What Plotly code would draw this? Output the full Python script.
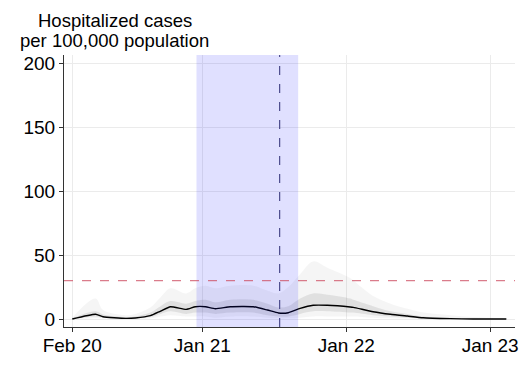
import plotly.graph_objects as go

# Median trajectory
dates = ["2020-02-06", "2020-04-05", "2020-04-24", "2020-06-20", "2020-07-15",
         "2020-08-22", "2020-09-17", "2020-10-12", "2020-11-21", "2020-12-14",
         "2021-01-09", "2021-02-03", "2021-03-13", "2021-05-10", "2021-06-15",
         "2021-07-13", "2021-08-07", "2021-09-06", "2021-10-09", "2021-11-14",
         "2022-01-11", "2022-01-19", "2022-03-10", "2022-04-23", "2022-06-05",
         "2022-07-15", "2022-09-22", "2022-11-19", "2023-02-11"]
median = [0.0, 3.7, 1.8, 0.5, 0.8, 2.6, 6.2, 9.6, 7.5, 9.6,
          9.6, 8.0, 9.6, 9.6, 7.0, 4.7, 4.9, 8.3, 10.7, 10.7,
          9.4, 9.1, 5.7, 3.7, 2.3, 1.0, 0.3, 0.0, 0.0]
# Simulation envelopes (outer = full spread, inner = dense core)
outer_low = [0, 0.5, 0.3, 0, 0, 0.5, 2, 3, 2, 2, 2, 1, 2, 2, 1, 0.5, 0.5, 1, 2, 2,
             2, 2, 1, 0.5, 0.3, 0, 0, 0, 0]
inner_low = [0, 2, 1, 0.2, 0.3, 1.5, 4, 6, 4, 5, 5, 4, 5, 5, 3, 2, 2, 4, 6, 6,
             5, 5, 3, 2, 1, 0.5, 0.2, 0, 0]
inner_high = [0.5, 6, 3.5, 1.5, 2, 5, 10, 14, 12, 14, 15, 13, 15, 15, 12, 9, 10, 16, 20, 19,
              16, 15, 10, 6, 4, 2, 1, 0.5, 0.2]
outer_high = [1, 16, 7, 3, 4, 9, 17, 24, 20, 24, 26, 24, 26, 26, 22, 20, 25, 35, 45, 40,
              32, 30, 18, 12, 8, 5, 3, 1.5, 0.5]

tick_vals = ["2020-02-06", "2021-01-01", "2022-01-01", "2023-01-01"]
tick_text = ["Feb 20", "Jan 21", "Jan 22", "Jan 23"]
y_ticks = [0, 50, 100, 150, 200]
threshold = 30
shade_start, shade_end = "2020-12-17", "2021-09-01"
marker_date = "2021-07-16"
title_lines = ["Hospitalized cases", "per 100,000 population"]

fig = go.Figure()

def band(low, high, color):
    fig.add_trace(go.Scatter(x=dates, y=high, mode="lines", line=dict(width=0, shape="spline"),
                             hoverinfo="skip", showlegend=False))
    fig.add_trace(go.Scatter(x=dates, y=low, mode="lines", line=dict(width=0, shape="spline"),
                             fill="tonexty", fillcolor=color, hoverinfo="skip", showlegend=False))

band(outer_low, outer_high, "rgba(120,120,120,0.07)")
band(inner_low, inner_high, "rgba(110,110,110,0.15)")

fig.add_trace(go.Scatter(x=dates, y=median, mode="lines",
                         line=dict(color="black", width=1.4, shape="spline", smoothing=0.5),
                         showlegend=False))

fig.add_vrect(x0=shade_start, x1=shade_end, fillcolor="rgba(0,0,255,0.12)", line_width=0, layer="above")
fig.add_vline(x=marker_date, line=dict(color="#4b4b8c", width=1.2, dash="dash"))
fig.add_hline(y=threshold, line=dict(color="rgba(205,80,100,0.75)", width=1.2, dash="dash"))

for txt, shift in zip(title_lines, [35, 15]):
    fig.add_annotation(text=txt, xref="paper", yref="paper",
                       x=0.113, y=1.0, yshift=shift, xanchor="center", yanchor="middle", showarrow=False,
                       font=dict(size=18.5, color="black", family="Liberation Sans, Arial, sans-serif"))

fig.update_layout(
    width=528, height=384,
    margin=dict(l=56, r=21, t=47, b=65),
    plot_bgcolor="white", paper_bgcolor="white",
    font=dict(family="Liberation Sans, Arial, sans-serif", size=19, color="black"),
    xaxis=dict(range=["2020-01-16", "2023-03-05"], tickvals=tick_vals, ticktext=tick_text,
               showgrid=True, gridcolor="#ebebeb", gridwidth=1, zeroline=False,
               showline=True, linecolor="#333", linewidth=1, ticks="outside", ticklen=4,
               tickcolor="#333", automargin=False, ticklabelstandoff=-3),
    yaxis=dict(range=[-6.25, 206.25], tickvals=y_ticks,
               showgrid=True, gridcolor="#ebebeb", gridwidth=1, zeroline=False,
               showline=True, linecolor="#333", linewidth=1, ticks="outside", ticklen=4,
               tickcolor="#333", automargin=False),
)

fig.write_html("out.html")
